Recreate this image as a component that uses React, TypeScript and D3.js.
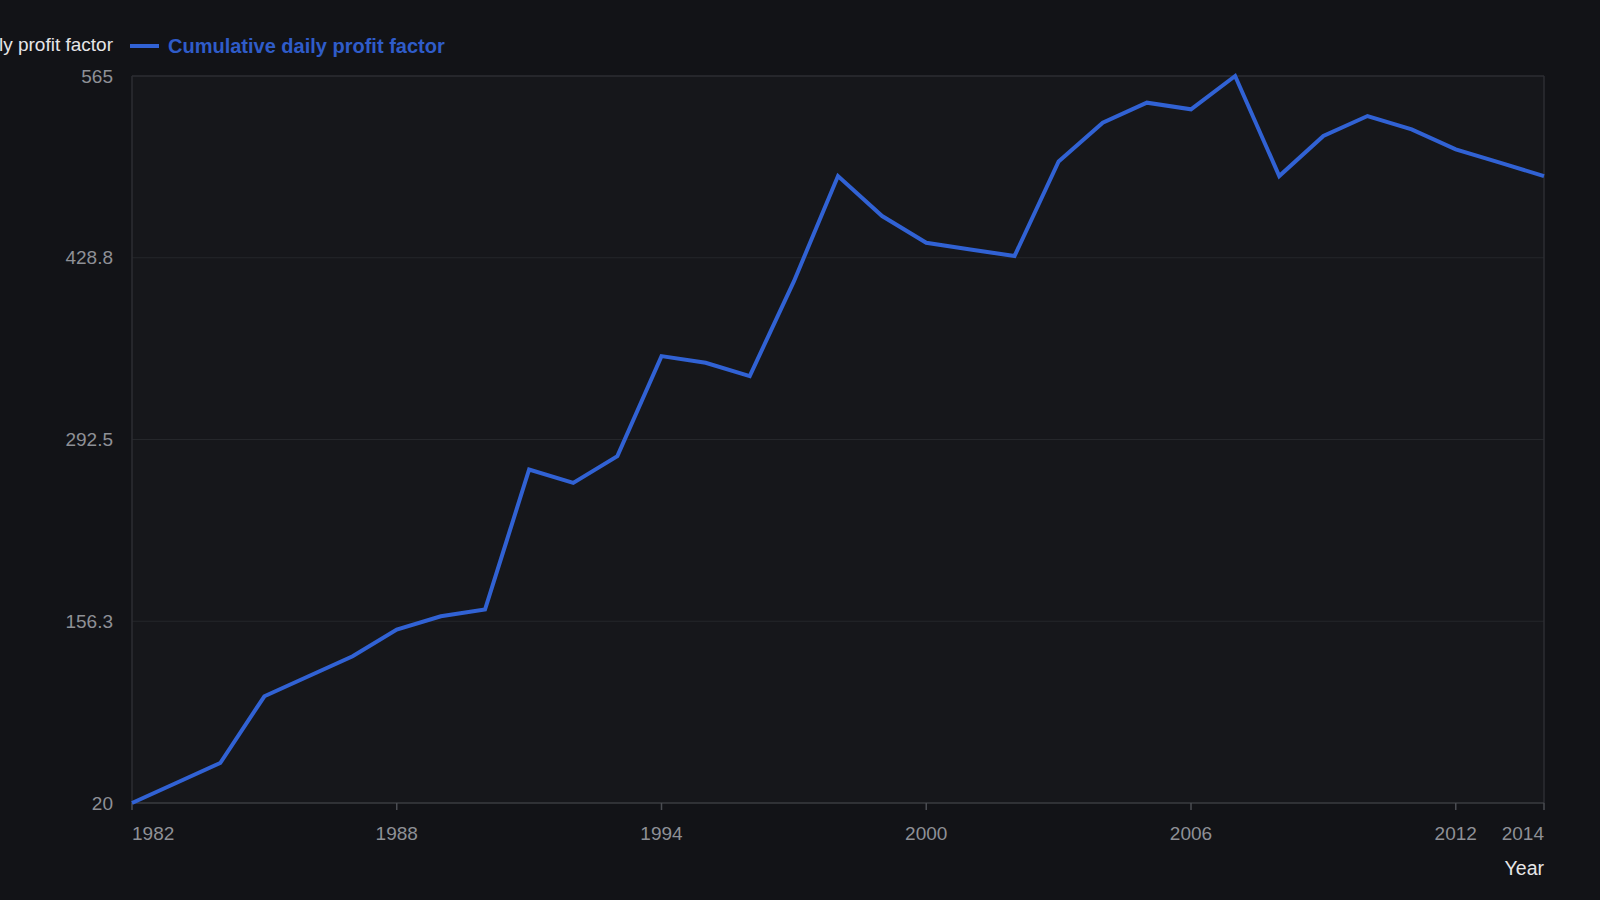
import React from "react";
import * as d3 from "d3";

const years: number[] = [
  1982, 1983, 1984, 1985, 1986, 1987, 1988, 1989, 1990, 1991, 1992, 1993, 1994, 1995, 1996, 1997,
  1998, 1999, 2000, 2001, 2002, 2003, 2004, 2005, 2006, 2007, 2008, 2009, 2010, 2011, 2012, 2013, 2014,
];
const profitFactor: number[] = [
  20, 35, 50, 100, 115, 130, 150, 160, 165, 270, 260, 280, 355, 350, 340, 411,
  490, 460, 440, 435, 430, 501, 530, 545, 540, 565, 490, 520, 535, 525, 510, 500, 490,
];
const xTicks: number[] = [1982, 1988, 1994, 2000, 2006, 2012, 2014];
const yTicks: number[] = [20, 156.25, 292.5, 428.75, 565];
const yTickLabels: string[] = ["20", "156.3", "292.5", "428.8", "565"];
const seriesName = "Cumulative daily profit factor";
const xTitle = "Year";

const W = 1600;
const H = 900;
const M = { left: 132, right: 1544, top: 76, bottom: 803 };

export default function App() {
  const x = d3.scaleLinear().domain([1982, 2014]).range([M.left, M.right]);
  const y = d3.scaleLinear().domain([20, 565]).range([M.bottom, M.top]);
  const line = d3
    .line<number>()
    .x((_, i) => x(years[i]))
    .y((d) => y(d));
  const font = "'Liberation Sans', Arial, Helvetica, sans-serif";
  const lineColor = "#3162d4";

  return (
    <div style={{ position: "fixed", left: 0, top: 0 }}>
      <svg width={W} height={H} style={{ display: "block", fontFamily: font }}>
        <rect x={0} y={0} width={W} height={H} fill="#121317" />
        <rect
          x={M.left}
          y={M.top}
          width={M.right - M.left}
          height={M.bottom - M.top}
          fill="#16171b"
        />
        {yTicks.map((t, i) =>
          i === 0 || i === yTicks.length - 1 ? null : (
            <line
              key={"g" + i}
              x1={M.left}
              x2={M.right}
              y1={y(t)}
              y2={y(t)}
              stroke="#25272b"
              strokeWidth={1}
            />
          )
        )}
        {/* frame */}
        <line x1={M.left} x2={M.right} y1={M.top} y2={M.top} stroke="#2c2e33" strokeWidth={1.5} />
        <line x1={M.left} x2={M.left} y1={M.top} y2={M.bottom} stroke="#2c2e33" strokeWidth={1.5} />
        <line x1={M.right} x2={M.right} y1={M.top} y2={M.bottom} stroke="#2c2e33" strokeWidth={1.5} />
        <line x1={M.left} x2={M.right} y1={M.bottom} y2={M.bottom} stroke="#3a3c41" strokeWidth={1.5} />
        {xTicks.map((t) => (
          <line
            key={"t" + t}
            x1={x(t)}
            x2={x(t)}
            y1={M.bottom}
            y2={M.bottom + 7}
            stroke="#4a4c52"
            strokeWidth={1.5}
          />
        ))}
        {xTicks.map((t, i) => (
          <text
            key={"xl" + t}
            x={x(t)}
            y={M.bottom + 37}
            fill="#8e9096"
            fontSize={19}
            textAnchor={i === 0 ? "start" : i === xTicks.length - 1 ? "end" : "middle"}
          >
            {t}
          </text>
        ))}
        {yTicks.map((t, i) => (
          <text
            key={"yl" + i}
            x={113}
            y={y(t)}
            dy="0.35em"
            fill="#8e9096"
            fontSize={19}
            textAnchor="end"
          >
            {yTickLabels[i]}
          </text>
        ))}
        <text x={M.right} y={875} fill="#e6e6e8" fontSize={19.5} textAnchor="end">
          {xTitle}
        </text>
        <text x={113} y={44} dy="0.35em" fill="#e6e6e8" fontSize={19} textAnchor="end">
          {seriesName}
        </text>
        <line x1={130} x2={159} y1={46} y2={46} stroke={lineColor} strokeWidth={4} />
        <text x={168} y={46} dy="0.35em" fill="#2f5cc9" fontSize={20} fontWeight="bold">
          {seriesName}
        </text>
        <path
          d={line(profitFactor) || ""}
          fill="none"
          stroke={lineColor}
          strokeWidth={4}
          strokeLinejoin="miter"
        />
      </svg>
    </div>
  );
}
